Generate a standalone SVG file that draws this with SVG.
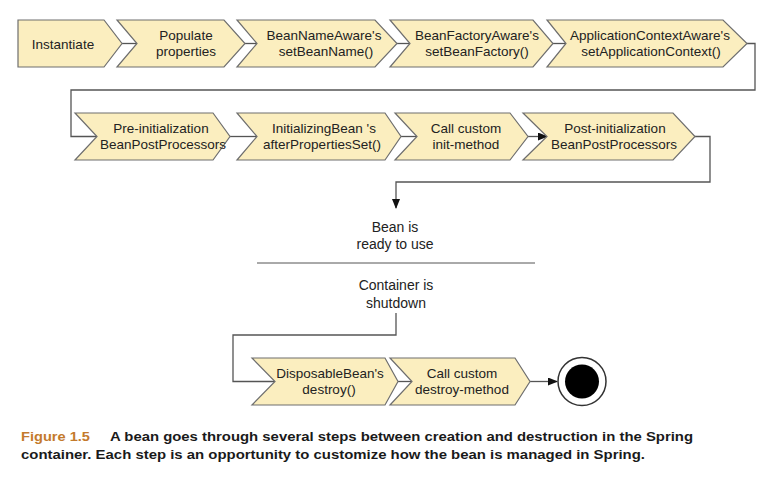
<svg xmlns="http://www.w3.org/2000/svg" width="776" height="488" viewBox="0 0 776 488">
<style>
.box{fill:#fbeebf;stroke:#6e6e6e;stroke-width:1.2}
.t{font-family:"Liberation Sans",Arial,sans-serif;font-size:13.5px;fill:#222;text-anchor:middle}
.m{font-family:"Liberation Sans",Arial,sans-serif;font-size:14px;fill:#222;text-anchor:middle}
.c{fill:none;stroke:#555;stroke-width:1.3}
.cap{font-family:"Liberation Sans",Arial,sans-serif;font-size:13px;font-weight:bold;fill:#1a1a1a}
</style>
<defs>
<marker id="ah" markerWidth="10" markerHeight="8" refX="9" refY="4" orient="auto" markerUnits="userSpaceOnUse">
<path d="M0,0 L10,4 L0,8 Z" fill="#111"/>
</marker>
</defs>
<rect width="776" height="488" fill="#fff"/>
<g id="connectors">
<line class="c" x1="122" y1="43.5" x2="137" y2="43.5"/>
<line class="c" x1="245" y1="43.5" x2="257" y2="43.5"/>
<line class="c" x1="397" y1="43.5" x2="410" y2="43.5"/>
<line class="c" x1="553" y1="43.5" x2="566" y2="43.5"/>
<polyline class="c" points="747,43.5 755,43.5 755,90 71,90 71,136.5 97,136.5"/>
<line class="c" x1="230" y1="136.5" x2="257" y2="136.5"/>
<line class="c" x1="401" y1="136.5" x2="417" y2="136.5"/>
<line class="c" x1="528" y1="136.5" x2="547" y2="136.5" marker-end="url(#ah)"/>
<polyline class="c" points="695,136.5 710,136.5 710,182 396,182 396,208" marker-end="url(#ah)"/>
<line x1="257" y1="263" x2="535" y2="263" stroke="#555" stroke-width="1"/>
<polyline class="c" points="396,313 396,335 233,335 233,381.5 275,381.5"/>
<line class="c" x1="398" y1="381.5" x2="412" y2="381.5"/>
<line class="c" x1="530" y1="381.5" x2="557" y2="381.5" marker-end="url(#ah)"/>
</g>
<g id="instantiate">
<polygon class="box" points="18,20 104,20 122,43.5 104,67 18,67"/>
<text class="t" x="63" y="49">Instantiate</text>
</g>
<g id="populate">
<polygon class="box" points="117,20 224,20 245,43.5 224,67 117,67 137,43.5"/>
<text class="t" x="186" y="40">Populate</text>
<text class="t" x="186" y="56">properties</text>
</g>
<g id="beanNameAware">
<polygon class="box" points="237,20 375,20 397,43.5 375,67 237,67 257,43.5"/>
<text class="t" x="324" y="40">BeanNameAware's</text>
<text class="t" x="326" y="56">setBeanName()</text>
</g>
<g id="beanFactoryAware">
<polygon class="box" points="390,20 533,20 553,43.5 533,67 390,67 410,43.5"/>
<text class="t" x="477" y="40">BeanFactoryAware's</text>
<text class="t" x="477" y="56">setBeanFactory()</text>
</g>
<g id="applicationContextAware">
<polygon class="box" points="547,20 723,20 747,43.5 723,67 547,67 566,43.5"/>
<text class="t" x="650" y="40">ApplicationContextAware's</text>
<text class="t" x="651" y="56">setApplicationContext()</text>
</g>
<g id="preInit">
<polygon class="box" points="75,113 213,113 230,136.5 213,160 75,160 97,136.5"/>
<text class="t" x="161" y="133">Pre-initialization</text>
<text class="t" x="163" y="149">BeanPostProcessors</text>
</g>
<g id="initializingBean">
<polygon class="box" points="237,113 385,113 401,136.5 385,160 237,160 257,136.5"/>
<text class="t" x="324" y="133">InitializingBean 's</text>
<text class="t" x="322" y="149">afterPropertiesSet()</text>
</g>
<g id="initMethod">
<polygon class="box" points="395,113 510,113 528,136.5 510,160 395,160 417,136.5"/>
<text class="t" x="466" y="133">Call custom</text>
<text class="t" x="466" y="149">init-method</text>
</g>
<g id="postInit">
<polygon class="box" points="523,113 673,113 695,136.5 673,160 523,160 547,136.5"/>
<text class="t" x="615" y="133">Post-initialization</text>
<text class="t" x="614" y="149">BeanPostProcessors</text>
</g>
<g id="ready">
<text class="m" x="395" y="232">Bean is</text>
<text class="m" x="395" y="249">ready to use</text>
</g>
<g id="shutdown">
<text class="m" x="396" y="290">Container is</text>
<text class="m" x="396" y="308">shutdown</text>
</g>
<g id="disposableBean">
<polygon class="box" points="252,358 385,358 398,381.5 385,405 252,405 275,381.5"/>
<text class="t" x="330" y="378">DisposableBean's</text>
<text class="t" x="329" y="394">destroy()</text>
</g>
<g id="destroyMethod">
<polygon class="box" points="390,358 515,358 530,381.5 515,405 390,405 412,381.5"/>
<text class="t" x="462" y="378">Call custom</text>
<text class="t" x="462" y="394">destroy-method</text>
</g>
<g id="end">
<circle cx="582" cy="381.5" r="24" fill="#fff" stroke="#333" stroke-width="1.5"/>
<circle cx="582" cy="381.5" r="17" fill="#000"/>
</g>
<g id="caption">
<text class="cap" x="21" y="441" textLength="69" lengthAdjust="spacingAndGlyphs" style="fill:#c47a2c">Figure 1.5</text>
<text class="cap" x="110" y="441" textLength="583" lengthAdjust="spacingAndGlyphs">A bean goes through several steps between creation and destruction in the Spring</text>
<text class="cap" x="21" y="459" textLength="624" lengthAdjust="spacingAndGlyphs">container. Each step is an opportunity to customize how the bean is managed in Spring.</text>
</g>
</svg>
